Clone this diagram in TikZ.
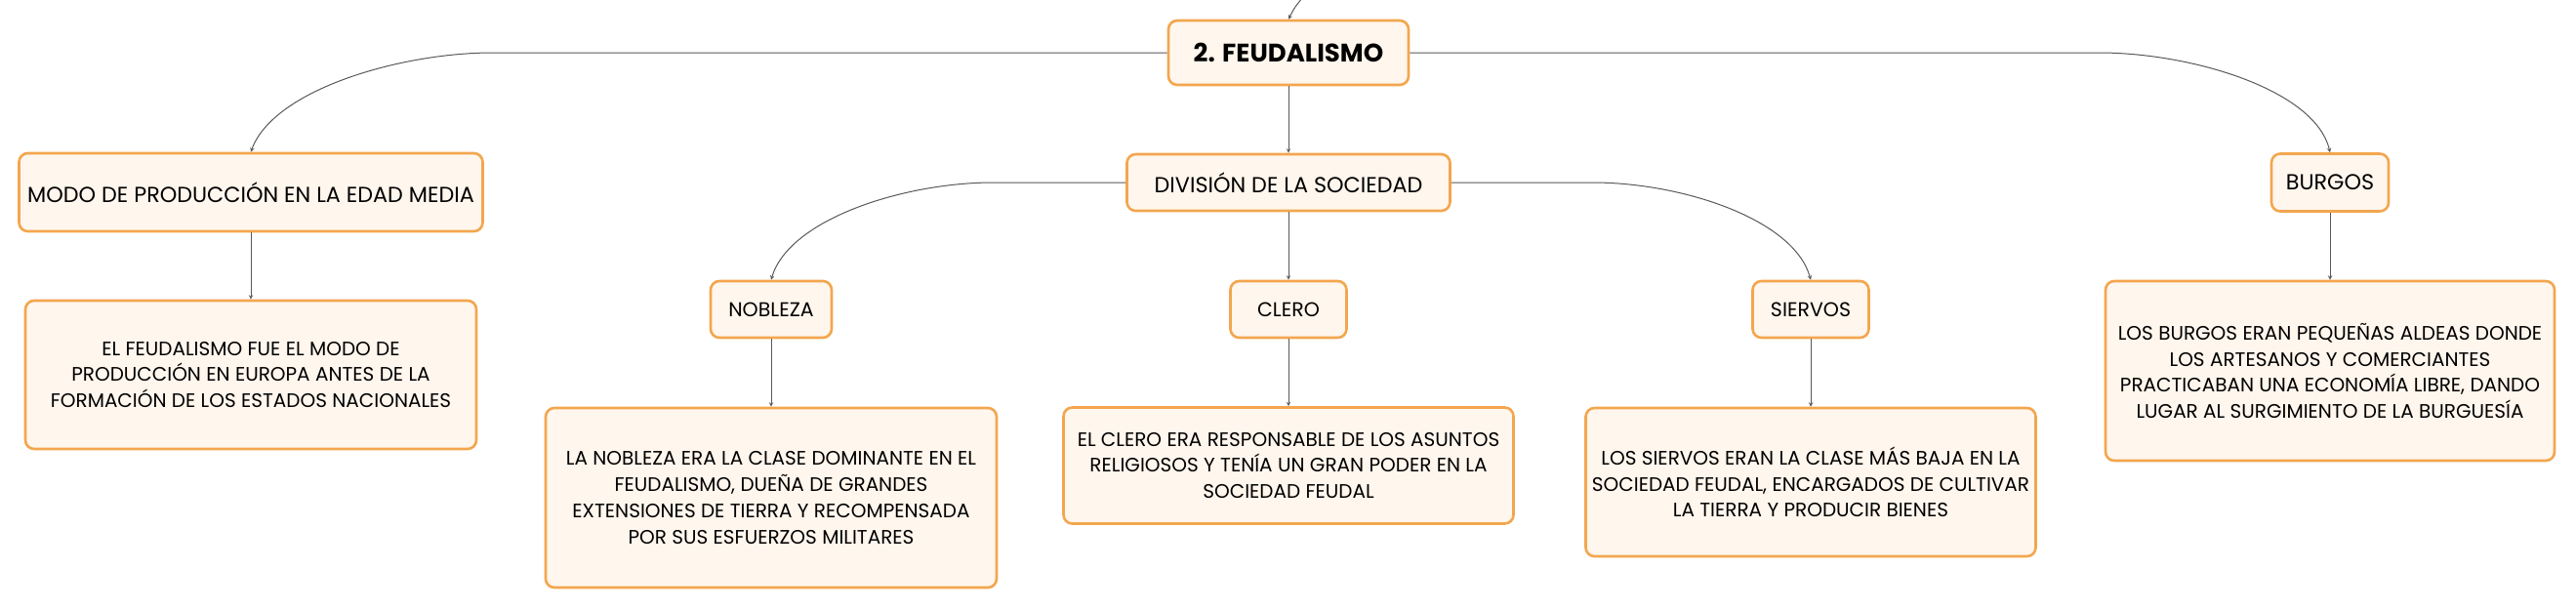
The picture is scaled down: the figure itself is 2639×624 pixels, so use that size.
\documentclass[tikz,border=0pt]{standalone}
\usepackage{fontspec}
\setmainfont{Poppins}
\usepackage{tikz}
\usetikzlibrary{positioning}
\definecolor{boxorange}{RGB}{243,166,78}
\definecolor{boxcream}{RGB}{255,246,237}
\definecolor{linkgray}{RGB}{88,88,88}

\begin{document}
\begin{tikzpicture}[>=stealth, x=1pt, y=-1pt]
        \tikzstyle{topic}=[draw=boxorange, fill=boxcream, line width=2.6pt, rounded corners=9pt, align=center, inner sep=0pt, text=black]
        \tikzstyle{maintopic}=[topic, font=\fontsize{26}{31}\selectfont\bfseries]
        \tikzstyle{subtopic}=[topic, font=\fontsize{22.3}{27}\selectfont]
        \tikzstyle{classtopic}=[topic, font=\fontsize{20.5}{25}\selectfont]
        \tikzstyle{leaf}=[topic, font=\fontsize{20}{26.7}\selectfont]
        \tikzstyle{link}=[->, draw=linkgray, line width=1pt]
        \useasboundingbox (0,0) rectangle (2639,624);

        % Central topic
        \node (feud)[maintopic, minimum width=246, minimum height=66] at (1320,54) {2. FEUDALISMO};
        \coordinate (incoming) at (1334,-2);

        % First level
        \node (modo)[subtopic, minimum width=475, minimum height=80] at (257,197) {MODO DE PRODUCCIÓN EN LA EDAD MEDIA};
        \node (div)[subtopic, minimum width=331, minimum height=58] at (1320,187) {DIVISIÓN DE LA SOCIEDAD};
        \node (burgos)[subtopic, minimum width=120, minimum height=59] at (2387,187) {BURGOS};

        % Social classes
        \node (nob)[classtopic, minimum width=124, minimum height=58] at (790,317) {NOBLEZA};
        \node (clero)[classtopic, minimum width=119, minimum height=58] at (1320,317) {CLERO};
        \node (siervos)[classtopic, minimum width=119, minimum height=58] at (1855,317) {SIERVOS};

        % Descriptions
        \node (modotxt)[leaf, minimum width=462, minimum height=152] at (257,384) {EL FEUDALISMO FUE EL MODO DE\\PRODUCCIÓN EN EUROPA ANTES DE LA\\FORMACIÓN DE LOS ESTADOS NACIONALES};
        \node (nobtxt)[leaf, minimum width=462, minimum height=184] at (790,510) {LA NOBLEZA ERA LA CLASE DOMINANTE EN EL\\FEUDALISMO, DUEÑA DE GRANDES\\EXTENSIONES DE TIERRA Y RECOMPENSADA\\POR SUS ESFUERZOS MILITARES};
        \node (clerotxt)[leaf, minimum width=461, minimum height=119] at (1320,477) {EL CLERO ERA RESPONSABLE DE LOS ASUNTOS\\RELIGIOSOS Y TENÍA UN GRAN PODER EN LA\\SOCIEDAD FEUDAL};
        \node (siervostxt)[leaf, minimum width=461, minimum height=152] at (1855,494) {LOS SIERVOS ERAN LA CLASE MÁS BAJA EN LA\\SOCIEDAD FEUDAL, ENCARGADOS DE CULTIVAR\\LA TIERRA Y PRODUCIR BIENES};
        \node (burgostxt)[leaf, minimum width=460, minimum height=184] at (2387,380) {LOS BURGOS ERAN PEQUEÑAS ALDEAS DONDE\\LOS ARTESANOS Y COMERCIANTES\\PRACTICABAN UNA ECONOMÍA LIBRE, DANDO\\LUGAR AL SURGIMIENTO DE LA BURGUESÍA};

        % Curved links
        \draw[link] (incoming) .. controls (1326,8) .. (feud.north);
        \draw[link] (feud.west) -- (505,54) .. controls (410,54) and (280,92) .. (modo.north);
        \draw[link] (feud.east) -- (2150,54) .. controls (2245,54) and (2372,92) .. (burgos.north);
        \draw[link] (div.west) -- (1018,187) .. controls (925,187) and (808,225) .. (nob.north);
        \draw[link] (div.east) -- (1631,187) .. controls (1724,187) and (1838,225) .. (siervos.north);

        % Straight links
        \draw[link] (feud) -- (div);
        \draw[link] (div) -- (clero);
        \draw[link] (modo) -- (modotxt);
        \draw[link] (nob) -- (nobtxt);
        \draw[link] (clero) -- (clerotxt);
        \draw[link] (siervos) -- (siervostxt);
        \draw[link] (burgos) -- (burgostxt);
\end{tikzpicture}
\end{document}
